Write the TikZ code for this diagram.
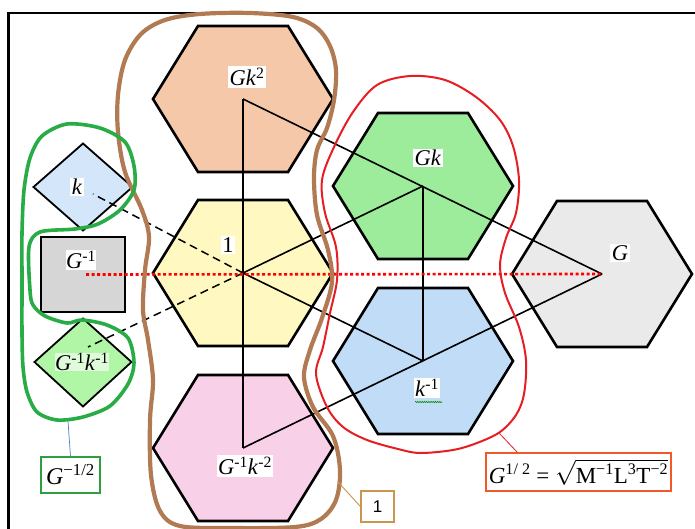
\documentclass[tikz,border=0pt]{standalone}
\usepackage{fontspec}
\setmainfont{Liberation Serif}
\newfontfamily\arialf{Liberation Sans}
\usetikzlibrary{calc,decorations.pathmorphing}

\definecolor{peachfill}{RGB}{246,200,170}
\definecolor{yellowfill}{RGB}{255,248,192}
\definecolor{pinkfill}{RGB}{248,208,232}
\definecolor{greenfill}{RGB}{156,236,156}
\definecolor{bluefill}{RGB}{192,220,246}
\definecolor{grayfill}{RGB}{234,234,234}
\definecolor{kfill}{RGB}{212,230,250}
\definecolor{squarefill}{RGB}{214,214,214}
\definecolor{gkfill}{RGB}{176,246,166}
\definecolor{blobbrown}{RGB}{178,122,82}
\definecolor{blobgreen}{RGB}{40,172,70}
\definecolor{blobred}{RGB}{230,30,36}
\definecolor{tagbrown}{RGB}{200,150,80}
\definecolor{taggreen}{RGB}{46,158,62}
\definecolor{tagred}{RGB}{240,90,40}
\definecolor{tagblue}{RGB}{74,126,200}

\tikzset{
  hexline/.style={line width=2.6pt, line join=miter},
  pics/hexcell/.style={code={
    \draw[hexline, fill=#1] (-90,0) -- (-45,-73) -- (45,-73) -- (90,0)
      -- (45,73) -- (-45,73) -- cycle;}},
  link/.style={line width=1.6pt},
  dashlink/.style={line width=1.5pt, dash pattern=on 8pt off 5pt},
  redaxis/.style={line width=2.6pt, red, dash pattern=on 3pt off 2.5pt},
  lbl/.style={fill=white, inner sep=1.5pt, font=\fontsize{22.5}{25}\selectfont},
  blob/.style={line cap=round, line join=round},
  tag/.style={draw, line width=1.1pt, fill=white, inner sep=2pt},
}

\begin{document}
\begin{tikzpicture}[x=1pt, y=-1pt]
\useasboundingbox (0,0) rectangle (695,529);
\fill[white] (0,0) rectangle (695,529);

% frame
\draw[line width=2.2pt] (8.5,529) -- (8.5,13) -- (695,13);

% hexagon centres
\coordinate (Gk2) at (243,99);
\coordinate (One) at (243,273);
\coordinate (Gik2) at (243,448);
\coordinate (Gk) at (423,186);
\coordinate (ki) at (423,361);
\coordinate (G) at (602,274);

\pic at (Gk2) {hexcell=peachfill};
\pic at (One) {hexcell=yellowfill};
\pic at (Gik2) {hexcell=pinkfill};
\pic at (Gk) {hexcell=greenfill};
\pic at (ki) {hexcell=bluefill};
\pic at (G) {hexcell=grayfill};

% left column: diamonds and square
\coordinate (kd) at (83,187);
\coordinate (Gi) at (83,274.5);
\coordinate (Gikd) at (83,362);
\draw[line width=1.8pt, fill=kfill] ($(kd)+(-49.5,0)$) -- ($(kd)+(0,-43.5)$)
  -- ($(kd)+(49.5,0)$) -- ($(kd)+(0,43.5)$) -- cycle;
\draw[line width=2.6pt, fill=squarefill] ($(Gi)+(-42,-37.5)$) rectangle ($(Gi)+(42,37.5)$);
\draw[line width=1.8pt, fill=gkfill] ($(Gikd)+(-48.5,0)$) -- ($(Gikd)+(0,-43.5)$)
  -- ($(Gikd)+(48.5,0)$) -- ($(Gikd)+(0,44.5)$) -- cycle;

% solid links between centres
\draw[link] (Gk2) -- (Gik2);
\draw[link] (Gk2) -- (G);
\draw[link] (G) -- (Gik2);
\draw[link] (One) -- (Gk);
\draw[link] (One) -- (ki);
\draw[link] (Gk) -- (ki);

% dashed links to the diamonds
\coordinate (kend) at (93,194);
\coordinate (gkend) at (88,347);
\draw[dashlink] (One) -- (kend);
\draw[dashlink] (One) -- (gkend);

% red dotted axis
\coordinate (axstart) at (86,274.5);
\draw[redaxis] (axstart) -- (G);

% brown outline round the middle column
\draw[blob, blobbrown, line width=4.2pt] plot[smooth cycle, tension=0.55] coordinates {
 (165,20) (200,14) (250,13) (293,17) (317,28) (330,46) (336,70) (334,100)
 (327,128) (317,150) (314,178) (317,215) (328,250) (332,282) (322,318)
 (310,350) (304,377) (313,407) (333,436) (340,470) (336,500) (321,519)
 (295,527) (230,528) (180,526) (160,511) (151,475) (150,420) (153,380)
 (148,340) (143,310) (145,270) (149,237) (142,210) (125,172) (118,132)
 (118,95) (125,60) (141,34)};

% red outline round Gk and k^-1
\draw[blob, blobred, line width=2pt] plot[smooth cycle, tension=0.55] coordinates {
 (334,147) (353,112) (377,85) (410,76) (445,80) (476,97) (500,120) (513,146)
 (519,180) (516,213) (506,238) (500,265) (505,293) (519,327) (526,360)
 (524,394) (516,415) (500,432) (477,443) (453,450) (420,453) (398,449)
 (367,440) (343,427) (327,407) (316,374) (323,347) (330,313) (337,280)
 (336,247) (325,213) (322,180)};

% green outline round k and G^-1 k^-1
\draw[blob, blobgreen, line width=3.6pt] plot[smooth cycle, tension=0.5] coordinates {
 (67,124) (100,128) (125,142) (134,166) (134,190) (120,210) (98,224)
 (75,229) (40,232) (29,247) (30,290) (33,305) (45,316) (67,323) (82,320)
 (107,325) (128,338) (134,363) (128,384) (110,406) (83,417) (57,420)
 (37,412) (27,392) (23,367) (22,333) (22,280) (22,233) (24,190) (30,158)
 (42,136)};

% labels
\node[lbl] (lGk2) at (247,77) {\textit{Gk}\textsuperscript{2}};
\node[lbl] (lOne) at (228,245) {1};
\node[lbl] (lGik2) at (245,466) {\textit{G}\textsuperscript{-1}\textit{k}\textsuperscript{-2}};
\node[lbl] (lGk) at (428,158) {\textit{Gk}};
\node[lbl] (lki) at (427,388) {\textit{k}\textsuperscript{-1}};
\node[lbl] (lG) at (620,253) {\textit{G}};
\node[lbl] (lk) at (77,187) {\textit{k}};
\node[lbl, inner sep=0.5pt] (lGi) at (81,260) {\textit{G}\textsuperscript{-1}};
\node[lbl, inner sep=0pt, fill opacity=0.6, text opacity=1] (lGik) at (82,362) {\textit{G}\textsuperscript{-1}\textit{k}\textsuperscript{-1}};
\draw[green!55!black, line width=0.6pt, decorate,
  decoration={snake, amplitude=0.6pt, segment length=2.2pt}] (415,402) -- (442,402);

% legend tags with leaders
\node[tag, draw=taggreen, minimum width=59pt, minimum height=36pt,
  font=\fontsize{24}{26}\selectfont] (tagGi) at (70.5,475)
  {\textit{G}\textsuperscript{−1/2}};
\coordinate (gblobpt) at (68,421);
\draw[tagblue, line width=0.7pt] (gblobpt) -- (tagGi.north);

\node[tag, draw=tagbrown, minimum width=33pt, minimum height=31pt,
  font=\arialf\fontsize{17}{19}\selectfont] (tagOne) at (377.5,506.5) {1};
\coordinate (bblobpt) at (338,482);
\draw[tagbrown, line width=0.9pt] (bblobpt) -- (tagOne.west);

\node[tag, draw=tagred, minimum width=185pt, minimum height=38pt,
  font=\fontsize{23}{26}\selectfont] (tagG) at (578.5,472)
  {\textit{G}\textsuperscript{1/ 2} = $\sqrt{\hbox{M\textsuperscript{−1}L\textsuperscript{3}T\textsuperscript{−2}}}$};
\coordinate (rblobpt) at (499,433);
\draw[blobred, line width=0.8pt] (rblobpt) -- ($(tagG.north west)+(32,0)$);
\end{tikzpicture}
\end{document}
